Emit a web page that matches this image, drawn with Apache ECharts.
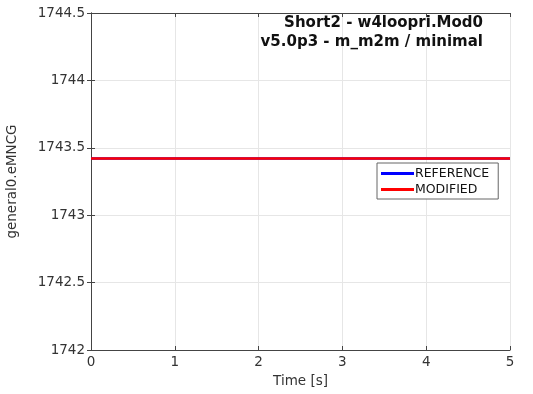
<!DOCTYPE html>
<html>
<head>
<meta charset="utf-8">
<script src="https://cdn.jsdelivr.net/npm/echarts@6/dist/echarts.min.js"></script>
<style>html,body{margin:0;padding:0;background:#fff}#c{width:533px;height:394px}</style>
</head>
<body>
<div id="c"></div>
<script>
const times = [0, 5];
const referenceValues = [1743.42, 1743.42];
const modifiedValues = [1743.42, 1743.42];
const xTicks = [0, 1, 2, 3, 4, 5];
const yTicks = [1742, 1742.5, 1743, 1743.5, 1744, 1744.5];
const titleLines = ['Short2 - w4loopri.Mod0', 'v5.0p3 - m_m2m / minimal'];

const chart = echarts.init(document.getElementById('c'));
const font = '"DejaVu Sans", sans-serif';
const axisCommon = {
  axisLine: {show: true, lineStyle: {color: '#444', width: 1}},
  axisTick: {show: true, inside: true, length: 4, lineStyle: {color: '#444'}},
  splitLine: {show: false},
};
chart.setOption({
  animation: false,
  graphic: titleLines.map((t, i) => ({
    type: 'text', x: 483, y: 23 + i * 19, z: 100,
    style: {text: t, textAlign: 'right', textVerticalAlign: 'middle', align: 'right', verticalAlign: 'middle',
      fontFamily: font, fontWeight: 'bold', fontSize: 15, fill: '#111'}
  })),
  grid: {left: 91, right: 23, top: 13, bottom: 44, outerBoundsMode: 'none', containLabel: false},
  legend: {
    orient: 'vertical',
    left: 377, top: 163,
    padding: [3, 9, 2, 4],
    itemGap: 1,
    itemWidth: 33, itemHeight: 3,
    icon: 'rect',
    backgroundColor: '#fff',
    borderColor: '#666', borderWidth: 1,
    textStyle: {fontFamily: font, fontSize: 12.5, color: '#111', padding: [0, 0, 0, -4], lineHeight: 15},
    data: ['REFERENCE', 'MODIFIED']
  },
  xAxis: [{
    type: 'value', min: 0, max: 5, interval: 1,
    name: 'Time [s]', nameLocation: 'middle', nameGap: 24,
    nameTextStyle: {fontFamily: font, fontSize: 13.5, color: '#333'},
    axisLabel: {fontFamily: font, fontSize: 13.5, color: '#333', margin: 5},
    ...axisCommon,
    splitLine: {show: true, lineStyle: {color: '#e6e6e6', width: 1}}
  }, {
    type: 'value', min: 0, max: 5, interval: 1, position: 'top',
    axisLabel: {show: false}, ...axisCommon
  }],
  yAxis: [{
    type: 'value', min: 1742, max: 1744.5, interval: 0.5,
    name: 'general0.eMNCG', nameLocation: 'middle', nameGap: 72,
    nameTextStyle: {fontFamily: font, fontSize: 13.5, color: '#333'},
    axisLabel: {fontFamily: font, fontSize: 13.5, color: '#333', margin: 6, formatter: v => String(v)},
    ...axisCommon,
    splitLine: {show: true, lineStyle: {color: '#e6e6e6', width: 1}}
  }, {
    type: 'value', min: 1742, max: 1744.5, interval: 0.5, position: 'right',
    axisLabel: {show: false}, ...axisCommon
  }],
  series: [{
    name: 'REFERENCE', type: 'line', showSymbol: false,
    color: '#0000ff', lineStyle: {width: 2.5, color: '#0000ff'},
    data: times.map((t, i) => [t, referenceValues[i]]), z: 2
  }, {
    name: 'MODIFIED', type: 'line', showSymbol: false,
    color: '#ff0000', lineStyle: {width: 2.5, color: '#ff0000'},
    data: times.map((t, i) => [t, modifiedValues[i]]), z: 3
  }]
});
</script>
</body>
</html>
